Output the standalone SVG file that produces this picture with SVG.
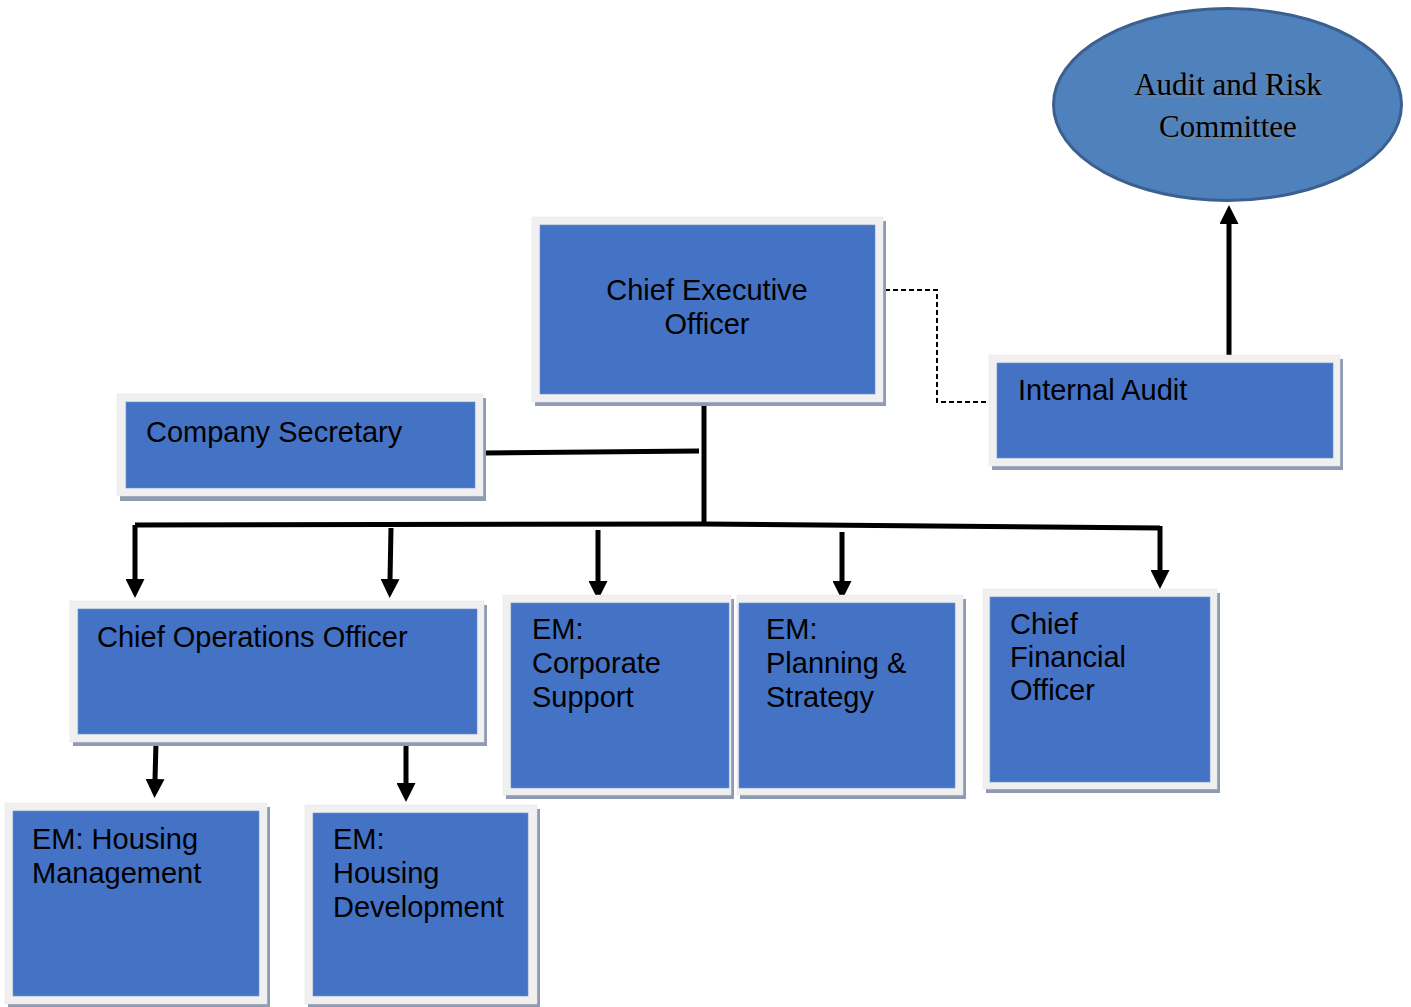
<svg xmlns="http://www.w3.org/2000/svg" width="1411" height="1007" viewBox="0 0 1411 1007">
<style>
.sh{fill:#8e9bb2}
.fr{fill:#f0f0f0;stroke:#e4e4e4;stroke-width:0.5}
.in{fill:#4472c4;stroke:#6f8fcf;stroke-width:0.6}
.t{font-family:"Liberation Sans",Arial,sans-serif;font-size:29px;fill:#000}
.c{text-anchor:middle}
.ts{font-family:"Liberation Serif","Times New Roman",serif;font-size:31px;text-anchor:middle}
.ln{fill:none;stroke:#000;stroke-width:5}
.ar{fill:none;stroke:#000;stroke-width:5;marker-end:url(#ah)}
.ds{fill:none;stroke:#000;stroke-width:2;stroke-dasharray:5 3}
</style>
<defs>
<marker id="ah" markerUnits="userSpaceOnUse" markerWidth="19" markerHeight="19" viewBox="0 0 19 19" refX="1" refY="9.5" orient="auto">
<path d="M0,0 L19,9.5 L0,19 z" fill="#000"/>
</marker>
</defs>
<g id="connectors">
<path class="ln" d="M135,525 L704,524 L1160,528"/>
<path class="ln" d="M704,402 L704,525"/>
<path class="ln" d="M485,453 L699,451"/>
<path class="ar" d="M135,525 L135,580"/>
<path class="ar" d="M391,528 L390,580"/>
<path class="ar" d="M598,530 L598,582"/>
<path class="ar" d="M842,532 L842,582"/>
<path class="ar" d="M1160,526 L1160,571"/>
<path class="ar" d="M156,742 L155,780"/>
<path class="ar" d="M406,742 L406,784"/>
<path class="ar" d="M1229,355 L1229,223"/>
<path class="ds" d="M885,290 L937,290 L937,402 L989,402"/>
</g>
<g id="arc">
<ellipse cx="1227.5" cy="104.5" rx="174" ry="96" fill="#4f81bd" stroke="#3b608f" stroke-width="3"/>
<text class="ts" fill="#8b8b8b" opacity="0.5" x="1229" y="97">Audit and Risk</text>
<text class="ts" fill="#8b8b8b" opacity="0.5" x="1229" y="139">Committee</text>
<text class="ts" fill="#000" x="1228" y="95">Audit and Risk</text>
<text class="ts" fill="#000" x="1228" y="137">Committee</text>
</g>
<g id="ceo">
<rect class="sh" x="535" y="221" width="351" height="185"/>
<rect class="fr" x="532" y="217" width="351" height="185"/>
<rect class="in" x="540" y="225" width="335" height="169"/>
<text class="t c" x="707" y="300">Chief Executive</text>
<text class="t c" x="707" y="334">Officer</text>
</g>
<g id="internal-audit">
<rect class="sh" x="992" y="359" width="351" height="111"/>
<rect class="fr" x="989" y="355" width="351" height="111"/>
<rect class="in" x="997" y="363" width="336" height="95"/>
<text class="t" x="1018" y="400">Internal Audit</text>
</g>
<g id="company-secretary">
<rect class="sh" x="120" y="398" width="366" height="103"/>
<rect class="fr" x="117" y="394" width="366" height="102"/>
<rect class="in" x="126" y="402" width="349" height="86"/>
<text class="t" x="146" y="442">Company Secretary</text>
</g>
<g id="coo">
<rect class="sh" x="73" y="605" width="414" height="141"/>
<rect class="fr" x="70" y="601" width="414" height="141"/>
<rect class="in" x="78" y="609" width="399" height="125"/>
<text class="t" x="97" y="647">Chief Operations Officer</text>
</g>
<g id="corporate-support">
<rect class="sh" x="506" y="599" width="228" height="200"/>
<rect class="fr" x="503" y="595" width="228" height="200"/>
<rect class="in" x="511" y="603" width="218" height="185"/>
<text class="t" x="532" y="639">EM:</text>
<text class="t" x="532" y="673">Corporate</text>
<text class="t" x="532" y="707">Support</text>
</g>
<g id="planning-strategy">
<rect class="sh" x="740" y="599" width="226" height="200"/>
<rect class="fr" x="737" y="595" width="226" height="200"/>
<rect class="in" x="739" y="603" width="216" height="185"/>
<text class="t" x="766" y="639">EM:</text>
<text class="t" x="766" y="673">Planning &amp;</text>
<text class="t" x="766" y="707">Strategy</text>
</g>
<g id="cfo">
<rect class="sh" x="986" y="593" width="234" height="200"/>
<rect class="fr" x="983" y="589" width="234" height="200"/>
<rect class="in" x="990" y="597" width="220" height="185"/>
<text class="t" x="1010" y="634">Chief</text>
<text class="t" x="1010" y="667">Financial</text>
<text class="t" x="1010" y="700">Officer</text>
</g>
<g id="housing-management">
<rect class="sh" x="8" y="807" width="262" height="201"/>
<rect class="fr" x="5" y="803" width="262" height="201"/>
<rect class="in" x="13" y="811" width="246" height="185"/>
<text class="t" x="32" y="849">EM: Housing</text>
<text class="t" x="32" y="883">Management</text>
</g>
<g id="housing-development">
<rect class="sh" x="308" y="809" width="232" height="199"/>
<rect class="fr" x="305" y="805" width="232" height="199"/>
<rect class="in" x="313" y="813" width="215" height="183"/>
<text class="t" x="333" y="849">EM:</text>
<text class="t" x="333" y="883">Housing</text>
<text class="t" x="333" y="917">Development</text>
</g>
</svg>
